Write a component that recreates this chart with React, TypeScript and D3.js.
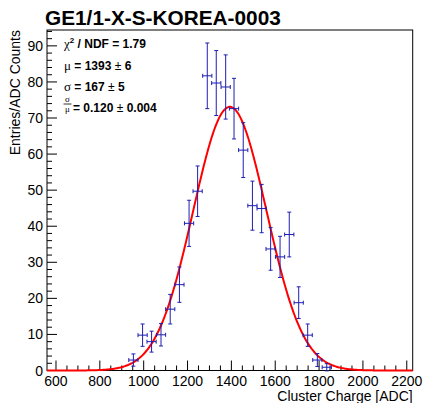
import React from "react";
import * as d3 from "d3";

const binCenters = [953, 995, 1036, 1079, 1121, 1163, 1207, 1246, 1290, 1331, 1374, 1412, 1454, 1496, 1538, 1579, 1622, 1664, 1707, 1748, 1792, 1835];
const binValues = [2.9, 9.8, 8.0, 9.9, 17.0, 23.8, 40.8, 49.7, 81.7, 79.7, 78.6, 72.6, 61.1, 45.7, 44.9, 33.7, 31.5, 37.7, 18.8, 9.8, 2.9, 0.9];
const binErrors = [1.7, 3.1, 2.9, 3.1, 4.1, 4.9, 6.4, 7.0, 9.1, 9.0, 8.9, 8.4, 7.6, 6.8, 6.7, 5.9, 5.7, 6.2, 4.4, 3.1, 1.8, 1.0];
const binHalfWidth = 21;

const fitAmplitude = 73.1;
const fitMean = 1393;
const fitSigma = 167;

const xTicks = [600, 800, 1000, 1200, 1400, 1600, 1800, 2000, 2200];
const yTicks = [0, 10, 20, 30, 40, 50, 60, 70, 80, 90];

const W = 423, H = 403;
const L = 47, R = 412.7, T = 30, B = 370.5;
const FONT = "'Liberation Sans', Arial, Helvetica, sans-serif";
const SERIF = "'Liberation Serif', 'Times New Roman', serif";
const BLUE = "#1e1eb0";

export default function App() {
  const x = d3.scaleLinear().domain([559, 2227]).range([L, R]);
  const y = d3.scaleLinear().domain([0, 94.4]).range([B, T]);

  const xMinor = d3.range(600, 2201, 50).filter((v) => !xTicks.includes(v));
  const yMinor = d3.range(0, 94.4, 2).filter((v) => v % 10 !== 0);

  const fitX = d3.range(559, 2227.01, 4);
  const line = d3
    .line<number>()
    .x((d) => x(d))
    .y((d) => y(fitAmplitude * Math.exp(-0.5 * ((d - fitMean) / fitSigma) ** 2)));

  const cap = 2;

  return (
    <svg width={W} height={H} style={{ position: "absolute", left: 0, top: 0, background: "#fff" }} fontFamily={FONT}>
      <rect x={0} y={0} width={W} height={H} fill="#fff" />
      {/* title */}
      <text x={45} y={25} fontSize={20.8} fontWeight="bold" fill="#000">GE1/1-X-S-KOREA-0003</text>

      {/* frame */}
      <rect x={L} y={T} width={R - L} height={B - T} fill="none" stroke="#000" strokeWidth={1} />

      {/* x ticks */}
      {xTicks.map((v) => (
        <g key={"xt" + v}>
          <line x1={x(v)} x2={x(v)} y1={B} y2={B - 10} stroke="#000" />
          <text x={x(v)} y={386} fontSize={14} textAnchor="middle">{v}</text>
        </g>
      ))}
      {xMinor.map((v) => (
        <line key={"xm" + v} x1={x(v)} x2={x(v)} y1={B} y2={B - 5} stroke="#000" />
      ))}
      <text x={R} y={401} fontSize={14} textAnchor="end">Cluster Charge [ADC]</text>

      {/* y ticks */}
      {yTicks.map((v) => (
        <g key={"yt" + v}>
          <line x1={L} x2={L + 10} y1={y(v)} y2={y(v)} stroke="#000" />
          <text x={43} y={y(v) + 5} fontSize={14} textAnchor="end">{v}</text>
        </g>
      ))}
      {yMinor.map((v) => (
        <line key={"ym" + v} x1={L} x2={L + 5} y1={y(v)} y2={y(v)} stroke="#000" />
      ))}
      <text transform={`translate(20,${T}) rotate(-90)`} fontSize={14} textAnchor="end">Entries/ADC Counts</text>

      {/* fit */}
      <path d={line(fitX) || ""} fill="none" stroke="#ff0000" strokeWidth={2} />

      {/* data */}
      {binCenters.map((c, i) => {
        const px = x(c);
        const py = y(binValues[i]);
        const x0 = x(c - binHalfWidth), x1 = x(c + binHalfWidth);
        const y0 = y(binValues[i] - binErrors[i]), y1 = y(binValues[i] + binErrors[i]);
        return (
          <g key={"p" + i} stroke={BLUE} strokeWidth={1}>
            <line x1={x0} x2={x1} y1={py} y2={py} />
            <line x1={px} x2={px} y1={y0} y2={y1} />
            <line x1={x0} x2={x0} y1={py - cap} y2={py + cap} />
            <line x1={x1} x2={x1} y1={py - cap} y2={py + cap} />
            <line x1={px - cap} x2={px + cap} y1={y0} y2={y0} />
            <line x1={px - cap} x2={px + cap} y1={y1} y2={y1} />
          </g>
        );
      })}

      {/* stats */}
      <g fontSize={12} fontWeight="bold">
        <text x={64} y={48}>
          <tspan fontFamily={SERIF} fontWeight="normal" fontSize={13}>χ</tspan>
          <tspan fontSize={8} dy={-5}>2</tspan>
          <tspan dy={5}> / NDF = 1.79</tspan>
        </text>
        <text x={64} y={70}>
          <tspan fontFamily={SERIF} fontWeight="normal" fontSize={13}>μ</tspan>
          <tspan> = 1393 </tspan>
          <tspan fontWeight="normal">±</tspan>
          <tspan> 6</tspan>
        </text>
        <text x={64} y={91}>
          <tspan fontFamily={SERIF} fontWeight="normal" fontSize={13}>σ</tspan>
          <tspan> = 167 </tspan>
          <tspan fontWeight="normal">±</tspan>
          <tspan> 5</tspan>
        </text>
        <text x={67.5} y={102} fontFamily={SERIF} fontWeight="normal" fontSize={9} textAnchor="middle">σ</text>
        <line x1={63.5} x2={71.5} y1={104} y2={104} stroke="#000" strokeWidth={0.8} />
        <text x={67.5} y={111.5} fontFamily={SERIF} fontWeight="normal" fontSize={9} textAnchor="middle">μ</text>
        <text x={73} y={112}>
          <tspan>= 0.120 </tspan>
          <tspan fontWeight="normal">±</tspan>
          <tspan> 0.004</tspan>
        </text>
      </g>
    </svg>
  );
}
